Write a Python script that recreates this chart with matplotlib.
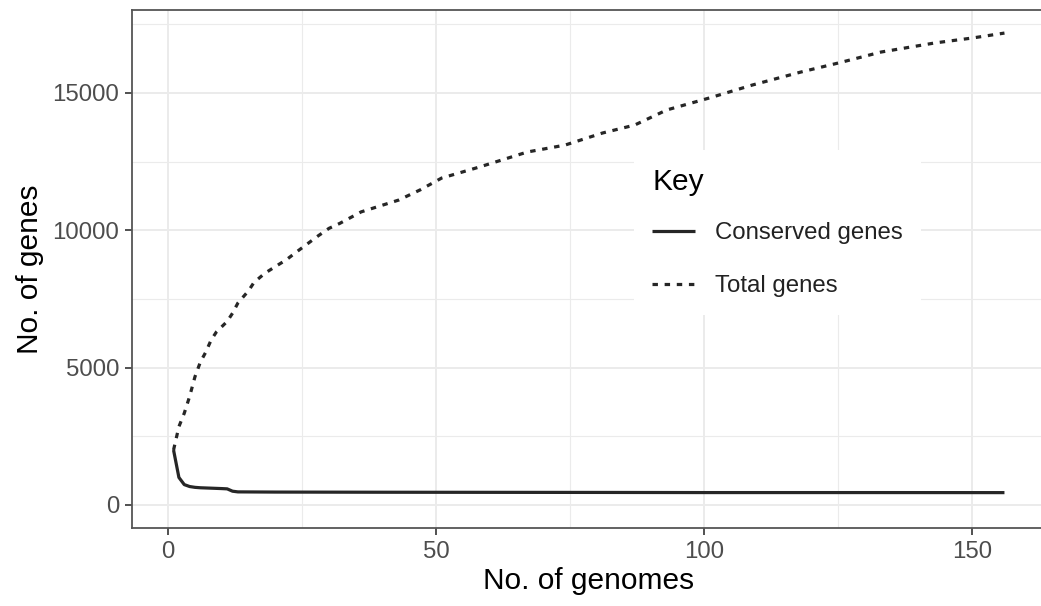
import matplotlib
matplotlib.use("Agg")
import matplotlib.pyplot as plt
from matplotlib.ticker import MultipleLocator

plt.rcParams['font.family'] = ['Liberation Sans', 'DejaVu Sans']

# Data
total_x = [1, 2, 3, 4, 5, 6, 7, 8, 9, 11, 12, 13, 15, 16, 18, 20, 22, 24, 26,
           28, 30, 32, 36, 43, 47, 51, 58, 67, 74, 81, 87, 93, 101, 109, 118,
           125, 133, 143, 150, 156]
total_y = [2000, 2850, 3340, 3950, 4670, 5200, 5560, 6000, 6300, 6680, 6980,
           7350, 7800, 8100, 8430, 8680, 8920, 9220, 9510, 9800, 10070, 10250,
           10670, 11100, 11470, 11900, 12300, 12850, 13100, 13540, 13830,
           14380, 14820, 15290, 15760, 16090, 16490, 16820, 17000, 17180]

cons_x = [1, 2, 3, 4, 5, 6, 8, 10, 11, 12, 13, 20, 40, 80, 100, 130, 156]
cons_y = [2000, 1000, 740, 670, 640, 625, 610, 595, 585, 500, 475, 468, 462,
          455, 450, 450, 448]

x_ticks = [0, 50, 100, 150]
y_ticks = [0, 5000, 10000, 15000]
x_label = "No. of genomes"
y_label = "No. of genes"
legend_title = "Key"
series_names = ["Conserved genes", "Total genes"]

W, H = 1041, 606
fig = plt.figure(figsize=(W / 100, H / 100), dpi=100)
left, right, top, bottom = 132, 1046, 10, 528
ax = fig.add_axes([left / W, (H - bottom) / H, (right - left) / W, (bottom - top) / H])

ax.set_xlim(-6.75, 163.75)
ax.set_ylim(-840, 18020)

grid_col = '#ebebeb'
ax.set_xticks(x_ticks)
ax.set_yticks(y_ticks)
ax.xaxis.set_minor_locator(MultipleLocator(25))
ax.yaxis.set_minor_locator(MultipleLocator(2500))
ax.grid(True, which='major', color=grid_col, lw=1.4)
ax.grid(True, which='minor', color=grid_col, lw=0.8)
ax.set_axisbelow(True)

line_col = '#262626'
ax.plot(cons_x, cons_y, color=line_col, lw=2.3, solid_capstyle='butt',
        label=series_names[0])
ax.plot(total_x, total_y, color=line_col, lw=2.3, linestyle=(0, (1.7, 2.1)),
        dash_capstyle='butt', label=series_names[1])

for s in ax.spines.values():
    s.set_color('#555555')
    s.set_linewidth(1.3)

ax.tick_params(which='major', length=5, width=1.2, color='#333333',
               labelsize=17.3, labelcolor='#4d4d4d', pad=4)
ax.tick_params(which='minor', length=0)
ax.set_xticklabels([str(v) for v in x_ticks])
ax.set_yticklabels([str(v) for v in y_ticks])

ax.set_xlabel(x_label, fontsize=21.5, color='black', labelpad=3)
ax.set_ylabel(y_label, fontsize=21.5, color='black', labelpad=6)

leg = ax.legend(title=legend_title, loc='upper left',
                bbox_to_anchor=(634 / W, 1 - 150 / H), bbox_transform=fig.transFigure,
                fontsize=17.3, title_fontsize=21.5, frameon=True, fancybox=False,
                edgecolor='none', facecolor='white', framealpha=1,
                handlelength=1.78, handletextpad=0.83, labelspacing=1.28,
                borderpad=0.75, borderaxespad=0)
leg._legend_box.align = "left"
leg._legend_box.sep = 1.28 * 17.3 - 3.2
for t in leg.get_texts():
    t.set_color('#222222')

fig.savefig("out.png", dpi=100)
